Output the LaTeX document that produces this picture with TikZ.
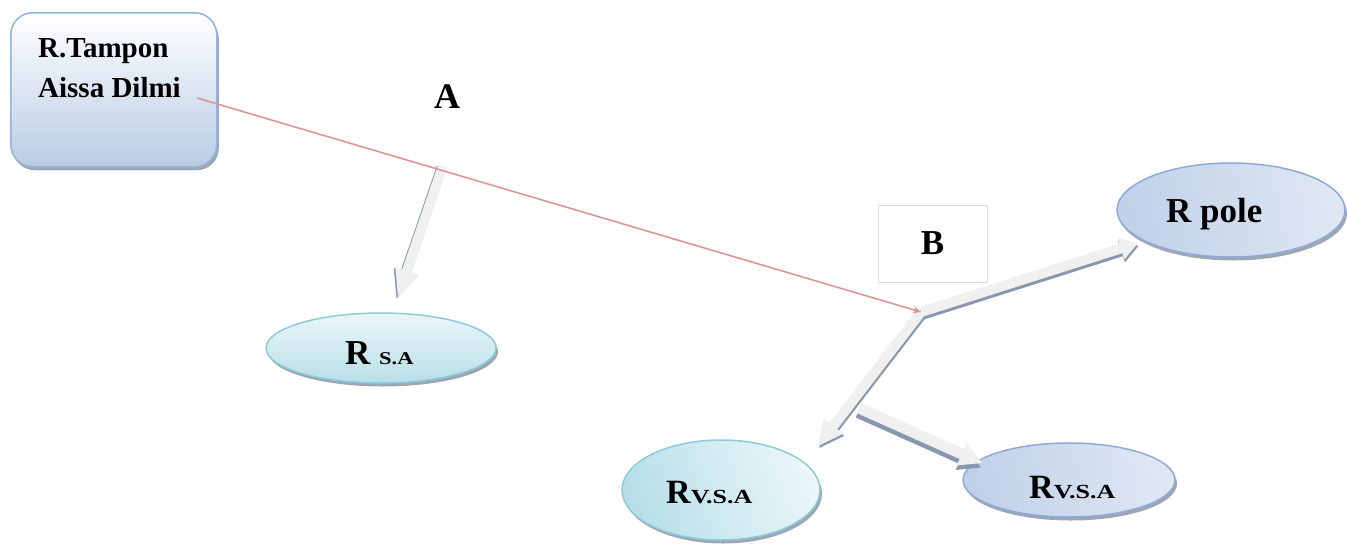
\documentclass[tikz,border=0pt]{standalone}
\usepackage{fontspec}
\setmainfont{Liberation Serif}
\usepackage{graphicx}
\usetikzlibrary{calc,shapes.geometric,shadows,arrows.meta}

\definecolor{boxedge}{HTML}{95B3D7}
\definecolor{boxlow}{HTML}{B8CCE4}
\definecolor{tealedge}{HTML}{8CCBD9}
\definecolor{teallight}{HTML}{EAF6F9}
\definecolor{tealdark}{HTML}{B8DFE8}
\definecolor{blueedge}{HTML}{8EAADB}
\definecolor{bluelight}{HTML}{DFE7F3}
\definecolor{bluedark}{HTML}{C0D1E8}
\definecolor{shadowc}{HTML}{8E97A6}
\definecolor{arrbody}{HTML}{F0F0F0}
\definecolor{arrshade}{HTML}{8797AD}
\definecolor{redline}{HTML}{D99694}
\definecolor{labelframe}{HTML}{DCDCE6}

\tikzset{
  x=1pt, y=-1pt,
  softshadow/.style={drop shadow={shadow xshift=2pt, shadow yshift=-3.5pt, fill=shadowc, opacity=0.85}},
  tbox/.style={draw=boxedge, line width=1.5pt, rounded corners=22pt,
    top color=white, bottom color=boxlow, softshadow, inner sep=0pt},
  tealell/.style={ellipse, draw=tealedge, line width=1.5pt, inner sep=0pt,
    top color=teallight, bottom color=tealdark, softshadow},
  blueell/.style={ellipse, draw=blueedge, line width=1.5pt, inner sep=0pt,
    left color=bluedark, right color=bluelight, shading angle=100, softshadow},
  bigtext/.style={font=\fontsize{#1}{#1}\selectfont\bfseries, inner sep=0pt},
  linkline/.style={draw=redline, line width=1.6pt, -{Stealth[length=8pt,width=7pt]}},
}

% block arrow from #1 to #2: shaft half width #3, head half width #4,
% head length #5, shadow offset #6
\newcommand\blockarrow[6]{%
  \coordinate (hb) at ($(#2)!#5!(#1)$);
  \fill[arrshade, transform canvas={shift={(#6)}}]
    ($(#1)!#3!90:(#2)$) -- ($(hb)!#3!90:(#2)$) -- ($(hb)!#4!90:(#2)$) -- (#2)
    -- ($(hb)!#4!-90:(#2)$) -- ($(hb)!#3!-90:(#2)$) -- ($(#1)!#3!-90:(#2)$) -- cycle;
  \fill[arrbody]
    ($(#1)!#3!90:(#2)$) -- ($(hb)!#3!90:(#2)$) -- ($(hb)!#4!90:(#2)$) -- (#2)
    -- ($(hb)!#4!-90:(#2)$) -- ($(hb)!#3!-90:(#2)$) -- ($(#1)!#3!-90:(#2)$) -- cycle;
}

\newcommand\rvsa{{\fontsize{34}{34}\selectfont R}{\fontsize{20}{20}\selectfont\scalebox{1.3}[1]{V.S.A}}}

\begin{document}
\begin{tikzpicture}
\useasboundingbox (0,0) rectangle (1347,547);

% source box
\node[tbox, minimum width=206pt, minimum height=154pt, anchor=north west] (tampon) at (10,12) {};
\node[bigtext=29, anchor=base west] (tamponA) at (38,57) {R.Tampon};
\node[bigtext=29, anchor=base west] (tamponB) at (38,97) {Aissa Dilmi};

% target ellipses
\node[tealell, minimum width=230pt, minimum height=70pt] (rsa) at (381,348) {};
\node[blueell, minimum width=228pt, minimum height=94pt] (rpole) at (1231,210) {};
\node[tealell, minimum width=198pt, minimum height=100pt, left color=tealdark, right color=teallight, shading angle=110] (rvsaL) at (721,490) {};
\node[blueell, minimum width=212pt, minimum height=74pt] (rvsaR) at (1069,480) {};

% ellipse texts
\node[bigtext=35, anchor=base west] (rsatext) at (345,364)
  {R {\fontsize{18}{18}\selectfont\scalebox{1.25}[1]{S.A}}};
\node[bigtext=35, anchor=base west] (rpoletext) at (1166,222) {R pole};
\node[bigtext=34, anchor=base west] (rvsaLtext) at (666,503) {\rvsa};
\node[bigtext=34, anchor=base west] (rvsaRtext) at (1029,498) {\rvsa};

% labels A and B
\node[bigtext=36] (labA) at (447,97) {A};
\node[draw=labelframe, line width=0.6pt, minimum width=109pt, minimum height=77pt,
  bigtext=35] (labB) at (932.5,243.5) {B};

% branch points
\coordinate (startR) at (197,98);
\coordinate (jA) at (443,166);
\coordinate (jB) at (921,312);
\coordinate (fork) at (859,408);
\coordinate (tipA) at (398,297);
\coordinate (tipPole) at (1138,243);
\coordinate (tipL) at (818,446);
\coordinate (tipR) at (982,463);

% block arrows
\blockarrow{jA}{tipA}{5pt}{12.5pt}{28pt}{-1.5pt,-1.5pt}
\blockarrow{jB}{tipPole}{5pt}{11.5pt}{18pt}{0.5pt,-3pt}
\blockarrow{jB}{tipL}{5pt}{12.5pt}{25pt}{1.2pt,-2pt}
\blockarrow{fork}{tipR}{5.5pt}{12.5pt}{22pt}{-1pt,-4.5pt}

% link line
\draw[linkline] (startR) -- (jB);
\end{tikzpicture}
\end{document}
